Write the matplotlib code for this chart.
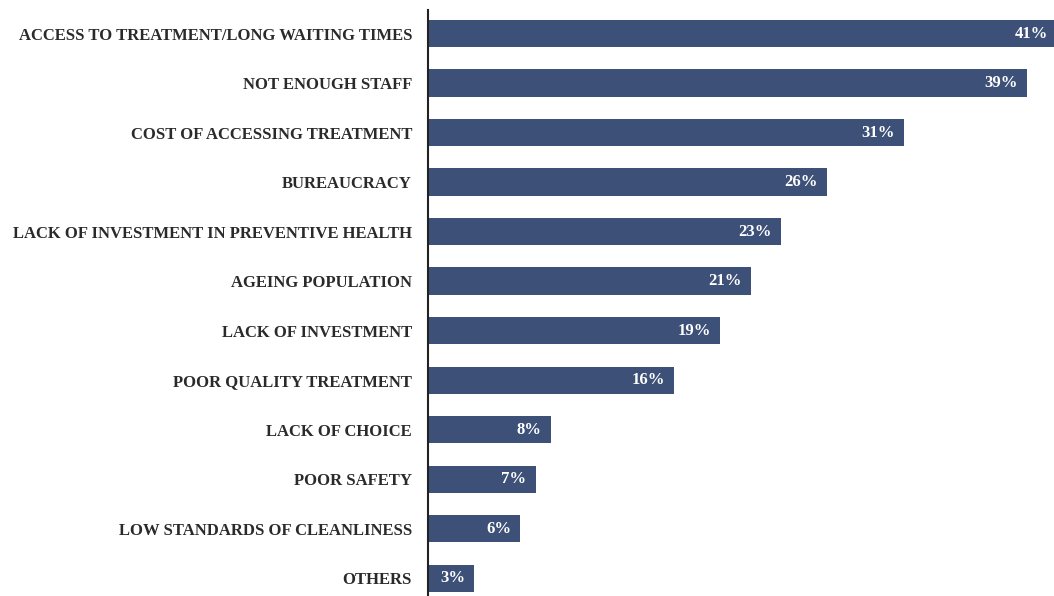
import matplotlib.pyplot as plt

# survey responses, top to bottom
categories = [
    "ACCESS TO TREATMENT/LONG WAITING TIMES",
    "NOT ENOUGH STAFF",
    "COST OF ACCESSING TREATMENT",
    "BUREAUCRACY",
    "LACK OF INVESTMENT IN PREVENTIVE HEALTH",
    "AGEING POPULATION",
    "LACK OF INVESTMENT",
    "POOR QUALITY TREATMENT",
    "LACK OF CHOICE",
    "POOR SAFETY",
    "LOW STANDARDS OF CLEANLINESS",
    "OTHERS",
]
values = [41, 39, 31, 26, 23, 21, 19, 16, 8, 7, 6, 3]

bar_color = "#3C5078"
font = "Liberation Serif"

fig = plt.figure(figsize=(10.54, 5.96), dpi=100)
ax = fig.add_axes([428 / 1054, 0, 1 - 428 / 1054, 1 - 10 / 596])

y = list(range(len(categories)))
ax.barh(y, values, height=0.55, color=bar_color)

# value labels sit inside the bar ends
for yi, v in zip(y, values):
    ax.text(v - 0.6, yi, f"{v}%", ha="right", va="center", color="white",
            fontsize=12, fontweight="bold", family=font)

ax.set_xlim(0, 40.76)
ax.set_ylim(11.36, -0.475)

ax.set_yticks(y)
ax.set_yticklabels(categories, fontsize=12, fontweight="bold", family=font, color="#2a2a2a")
ax.tick_params(axis="y", length=0, pad=11.5)
ax.set_xticks([])

for side in ["top", "right", "bottom"]:
    ax.spines[side].set_visible(False)
ax.spines["left"].set_linewidth(1.5)
ax.spines["left"].set_color("#222222")

fig.savefig("out.png", dpi=100)
